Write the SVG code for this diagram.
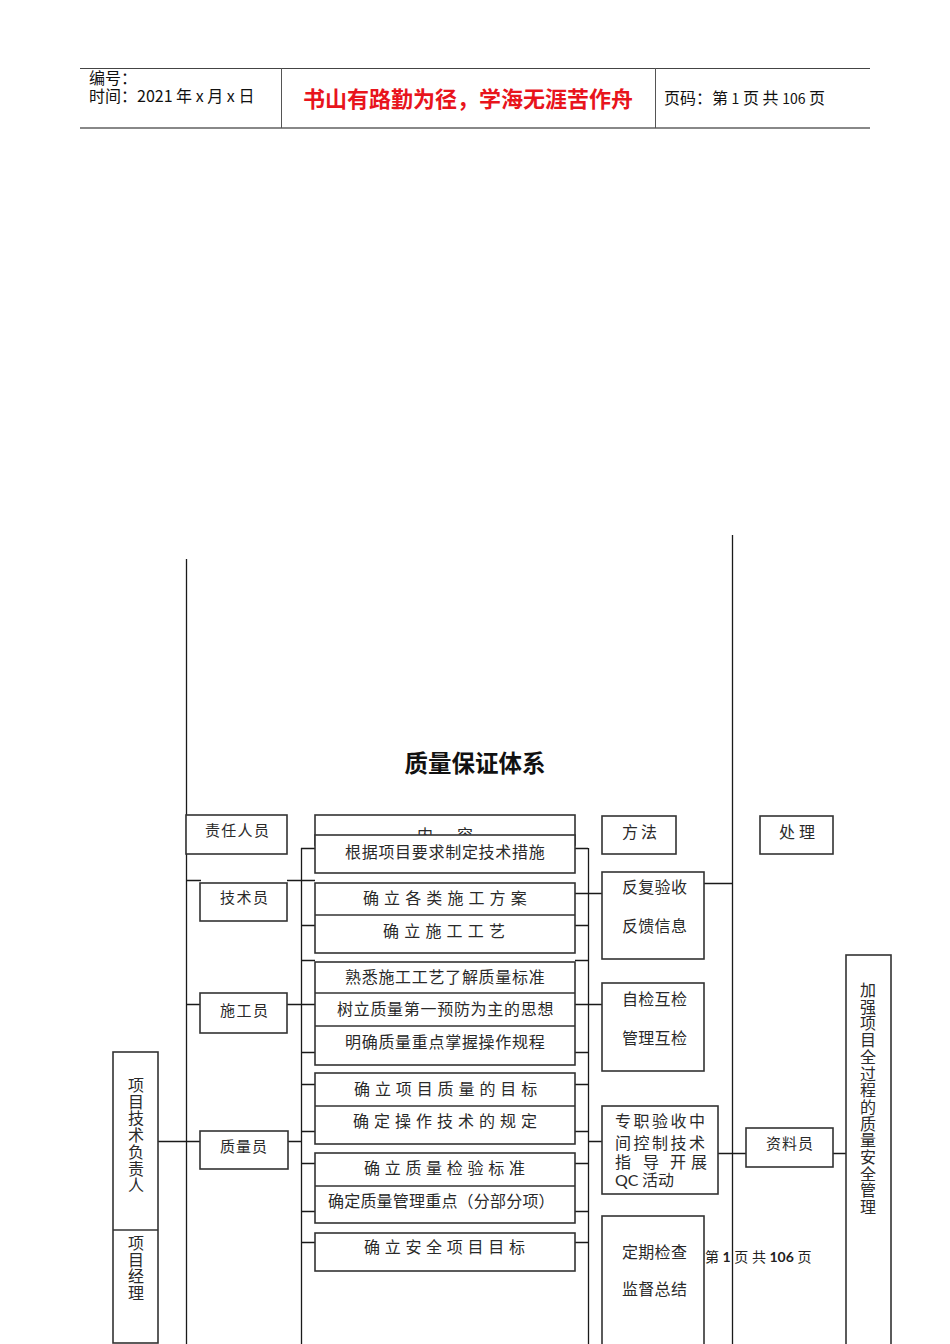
<svg xmlns="http://www.w3.org/2000/svg" width="950" height="1344" viewBox="0 0 950 1344">
<style>
.ln{stroke:#1a1a1a;stroke-width:1.3;fill:none}
.bx{stroke:#333;stroke-width:1.6;fill:#fff}
.t{font-family:"Noto Sans CJK SC",sans-serif;font-size:16px;fill:#2a2a2a}
.s{font-size:15px}
.v{writing-mode:vertical-rl;letter-spacing:0.7px}
.h{font-family:"Noto Sans CJK SC",sans-serif;font-size:16px;fill:#111}
</style>
<rect width="950" height="1344" fill="#fff"/>
<g id="header">
<line x1="80" y1="68.5" x2="870" y2="68.5" stroke="#444" stroke-width="1"/>
<line x1="80" y1="128" x2="870" y2="128" stroke="#888" stroke-width="2"/>
<line x1="281.5" y1="68" x2="281.5" y2="128" stroke="#555" stroke-width="1"/>
<line x1="655.5" y1="68" x2="655.5" y2="128" stroke="#555" stroke-width="1"/>
<text class="h" x="89" y="84" font-size="15">编号：</text>
<text class="h" x="89" y="102">时间：2021 年 x 月 x 日</text>
<text x="468" y="107" text-anchor="middle" font-family="Noto Sans CJK SC,sans-serif" font-size="22" font-weight="bold" fill="#e8141c">书山有路勤为径，学海无涯苦作舟</text>
<text class="h" x="664" y="104">页码：第 <tspan font-size="14">1</tspan> 页 共 <tspan font-size="14">106</tspan> 页</text>
</g>
<text id="title" x="475" y="772" text-anchor="middle" font-family="Noto Sans CJK SC,sans-serif" font-size="23.5" font-weight="bold" fill="#111">质量保证体系</text>
<g id="connectors">
<line class="ln" x1="186.5" y1="559" x2="186.5" y2="1344"/>
<line class="ln" x1="732.5" y1="535" x2="732.5" y2="1344"/>
<line class="ln" x1="301.5" y1="848" x2="301.5" y2="1344"/>
<line class="ln" x1="588.5" y1="848" x2="588.5" y2="1344"/>
<path class="ln" d="M186 880.5H201 M287 880.5H315 M186 1004.5H200 M287 1004.5H315 M158 1141.5H200 M288 1141.5H302"/>
<path class="ln" d="M301 848.5H315 M301 925.5H315 M301 960.5H315 M301 1052.5H315 M301 1084.5H315 M301 1131.5H315 M301 1163.5H315 M301 1211.5H315 M301 1242.5H315"/>
<path class="ln" d="M575 848.5H588 M575 893.5H602 M575 925.5H588 M575 960.5H588 M575 1004.5H602 M575 1052.5H588 M575 1084.5H588 M575 1131.5H588 M588 1141.5H602 M575 1163.5H588 M575 1211.5H588 M575 1242.5H588"/>
<path class="ln" d="M704 883.5H732 M718 1153.5H746 M833 1153.5H846"/>
<line x1="129.5" y1="1198" x2="129.5" y2="1243" stroke="#444" stroke-width="1.3"/>
</g>
<g id="n-zeren"><rect class="bx" x="186" y="815" width="101" height="39"/><text class="t s" x="205" y="836" letter-spacing="1.3">责任人员</text></g>
<g id="n-neirong"><rect class="bx" x="315" y="815" width="260" height="30"/><text class="t" x="417" y="841" letter-spacing="24">内容</text></g>
<g id="n-c1"><rect class="bx" x="315" y="835" width="260" height="38"/><text class="t" x="345" y="858" letter-spacing="0.7">根据项目要求制定技术措施</text></g>
<g id="n-jishuyuan"><rect class="bx" x="200" y="883" width="87" height="38"/><text class="t s" x="220" y="903" letter-spacing="1.5">技术员</text></g>
<g id="n-c2"><rect class="bx" x="315" y="883" width="260" height="70"/><line class="bx" x1="315" y1="915" x2="575" y2="915"/>
<text class="t" x="363" y="904" letter-spacing="5.1">确立各类施工方案</text>
<text class="t" x="383" y="937" letter-spacing="5.2">确立施工工艺</text></g>
<g id="n-shigongyuan"><rect class="bx" x="200" y="993" width="87" height="40"/><text class="t s" x="220" y="1016" letter-spacing="1.5">施工员</text></g>
<g id="n-c3"><rect class="bx" x="315" y="962" width="260" height="103"/><line class="bx" x1="315" y1="993" x2="575" y2="993"/><line class="bx" x1="315" y1="1026" x2="575" y2="1026"/>
<text class="t" x="345" y="983" letter-spacing="0.7">熟悉施工工艺了解质量标准</text>
<text class="t" x="337" y="1015" letter-spacing="0.7">树立质量第一预防为主的思想</text>
<text class="t" x="345" y="1048" letter-spacing="0.7">明确质量重点掌握操作规程</text></g>
<g id="n-c4"><rect class="bx" x="315" y="1073" width="260" height="71"/><line class="bx" x1="315" y1="1106" x2="575" y2="1106"/>
<text class="t" x="354" y="1095" letter-spacing="4.9">确立项目质量的目标</text>
<text class="t" x="353" y="1127" letter-spacing="5">确定操作技术的规定</text></g>
<g id="n-zhiliangyuan"><rect class="bx" x="200" y="1131" width="88" height="38"/><text class="t s" x="220" y="1152" letter-spacing="1">质量员</text></g>
<g id="n-c5"><rect class="bx" x="315" y="1153" width="260" height="70"/><line class="bx" x1="315" y1="1186" x2="575" y2="1186"/>
<text class="t" x="364" y="1174" letter-spacing="4.7">确立质量检验标准</text>
<text class="t" x="328" y="1207" letter-spacing="0.2">确定质量管理重点（分部分项）</text></g>
<g id="n-c6"><rect class="bx" x="315" y="1233" width="260" height="38"/><text class="t" x="364" y="1253" letter-spacing="4.7">确立安全项目目标</text></g>
<g id="n-fuzeren"><rect class="bx" x="113" y="1052" width="45" height="291"/><line class="bx" x1="113" y1="1230" x2="158" y2="1230"/>
<text class="t v" x="136" y="1077">项目技术负责人</text>
<text class="t v" x="136" y="1235">项目经理</text></g>
<g id="n-fangfa"><rect class="bx" x="602" y="816" width="74" height="38"/><text class="t" x="622" y="838" letter-spacing="3">方法</text></g>
<g id="n-chuli"><rect class="bx" x="760" y="816" width="73" height="38"/><text class="t" x="779" y="838" letter-spacing="4">处理</text></g>
<g id="n-m1"><rect class="bx" x="602" y="872" width="102" height="87"/><text class="t" x="622" y="893" letter-spacing="0.3">反复验收</text><text class="t" x="622" y="932" letter-spacing="0.3">反馈信息</text></g>
<g id="n-m2"><rect class="bx" x="602" y="983" width="102" height="88"/><text class="t" x="622" y="1005" letter-spacing="0.3">自检互检</text><text class="t" x="622" y="1044" letter-spacing="0.3">管理互检</text></g>
<g id="n-m3"><rect class="bx" x="602" y="1106" width="116" height="88"/>
<text class="t" x="615" y="1127" letter-spacing="2.5">专职验收中</text>
<text class="t" x="615" y="1149" letter-spacing="2.5">间控制技术</text>
<text class="t" y="1168"><tspan x="615">指</tspan><tspan x="643">导</tspan><tspan x="670">开</tspan><tspan x="691">展</tspan></text>
<text class="t" x="615" y="1186"><tspan font-family="Lato,sans-serif">QC</tspan> 活动</text></g>
<g id="n-m4"><rect class="bx" x="602" y="1216" width="102" height="140"/><text class="t" x="622" y="1258" letter-spacing="0.3">定期检查</text><text class="t" x="622" y="1295" letter-spacing="0.3">监督总结</text></g>
<g id="n-ziliaoyuan"><rect class="bx" x="746" y="1128" width="87" height="39"/><text class="t s" x="766" y="1149" letter-spacing="1">资料员</text></g>
<g id="n-jiaqiang"><rect class="bx" x="846" y="955" width="45" height="400"/>
<text class="t v" x="868" y="982">加强项目全过程的质量安全管理</text></g>
<text id="footer" x="705" y="1262" font-family="Lato,'Noto Sans CJK SC',sans-serif" font-size="14" fill="#222">第 <tspan font-weight="bold">1</tspan> 页 共 <tspan font-weight="bold">106</tspan> 页</text>
</svg>
